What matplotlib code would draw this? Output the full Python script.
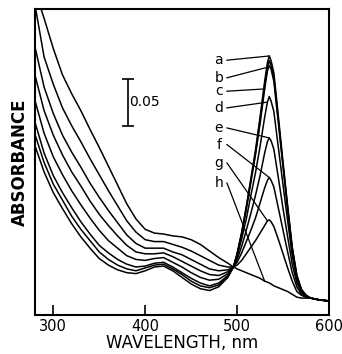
import numpy as np
import matplotlib
matplotlib.use('Agg')
import matplotlib.pyplot as plt

wavelength = [280, 290, 300, 310, 320, 330, 340, 350, 360, 370, 380, 390, 400, 410,
              420, 430, 440, 450, 460, 470, 480, 490,
              496, 500, 505, 510, 515, 520, 525, 530, 533, 535, 537, 540, 545, 550,
              555, 560, 565, 570, 575, 580, 590, 600]

# absorbance (uv part, then visible band)
spec_a = [.180, .152, .130, .113, .097, .083, .071, .060, .053, .048, .045, .044, .047, .051,
          .052, .047, .040, .033, .028, .026, .030, .040,
          .051, .065, .088, .115, .145, .175, .210, .248, .268, .275, .270, .257, .210, .162,
          .116, .072, .042, .027, .021, .018, .016, .015]
spec_b = [.192, .162, .139, .122, .105, .091, .079, .067, .059, .053, .049, .047, .050, .053,
          .054, .049, .043, .036, .031, .029, .032, .041,
          .051, .065, .087, .114, .143, .172, .207, .244, .263, .270, .265, .252, .206, .159,
          .114, .071, .042, .027, .021, .018, .016, .015]
spec_c = [.205, .172, .148, .130, .114, .099, .086, .074, .066, .059, .054, .051, .052, .055,
          .056, .051, .045, .039, .034, .031, .034, .042,
          .051, .064, .086, .112, .141, .170, .203, .240, .259, .265, .261, .248, .203, .157,
          .112, .070, .041, .027, .021, .018, .016, .015]
spec_d = [.228, .193, .168, .149, .132, .117, .103, .090, .079, .071, .063, .059, .058, .060,
          .061, .056, .051, .045, .040, .037, .038, .044,
          .051, .062, .081, .102, .127, .151, .179, .210, .226, .232, .227, .216, .177, .138,
          .100, .063, .038, .025, .020, .018, .016, .015]
spec_e = [.255, .217, .191, .170, .152, .137, .121, .107, .095, .084, .074, .067, .065, .065,
          .066, .062, .057, .052, .047, .043, .042, .046,
          .051, .059, .073, .090, .108, .127, .148, .172, .184, .188, .185, .176, .145, .113,
          .083, .054, .034, .024, .020, .018, .016, .015]
spec_f = [.285, .242, .214, .191, .173, .157, .140, .125, .111, .098, .085, .076, .071, .071,
          .071, .067, .064, .059, .054, .049, .047, .048,
          .051, .056, .066, .078, .090, .103, .119, .135, .143, .146, .143, .136, .113, .090,
          .067, .045, .030, .022, .019, .018, .016, .015]
spec_g = [.330, .274, .245, .220, .201, .184, .166, .149, .132, .116, .100, .088, .080, .078,
          .078, .075, .072, .068, .063, .058, .053, .051,
          .051, .053, .058, .065, .072, .079, .087, .095, .100, .101, .099, .094, .080, .065,
          .050, .036, .025, .021, .019, .018, .016, .015]
spec_h = [.345, .315, .283, .255, .235, .217, .197, .178, .158, .138, .118, .102, .091, .087,
          .086, .084, .083, .080, .075, .068, .061, .055,
          .051, .049, .047, .045, .043, .041, .039, .036, .035, .034, .033, .031, .029, .027,
          .025, .022, .019, .018, .018, .018, .016, .015]

letters = ['a', 'b', 'c', 'd', 'e', 'f', 'g', 'h']
label_y = [0.2705, 0.2518, 0.2376, 0.2199, 0.1986, 0.1809, 0.1614, 0.1401]
leader_wl = [535, 533, 530, 533, 535, 535, 533, 530]

spectra = [spec_a, spec_b, spec_c, spec_d, spec_e, spec_f, spec_g, spec_h]

fig = plt.figure(figsize=(3.42, 3.54), dpi=100)
ax = fig.add_axes([0.102, 0.110, 0.860, 0.865])

for s in spectra:
    ax.plot(wavelength, s, color='black', lw=1.1, solid_joinstyle='round')

# labels with leader lines
for lab, ly, lw_, s in zip(letters, label_y, leader_wl, spectra):
    ax.text(480, ly, lab, ha='center', va='center', fontsize=10)
    ax.plot([489, lw_], [ly, s[wavelength.index(lw_)]], color='black', lw=0.9)

# 0.05 scale bar
ax.errorbar(381, 0.226, yerr=0.025, fmt='none', ecolor='black', elinewidth=1.2,
            capsize=4, capthick=1.2)
ax.text(383, 0.226, '0.05', ha='left', va='center', fontsize=10)

ax.set_xlim(280, 600)
ax.set_ylim(0, 0.325)
ax.set_xticks([300, 400, 500, 600])
ax.set_yticks([])
ax.tick_params(axis='x', direction='in', length=7, width=1.2, labelsize=10.5, pad=3)
for sp in ax.spines.values():
    sp.set_linewidth(1.5)

ax.set_xlabel('WAVELENGTH, nm', fontsize=12, labelpad=0)
ax.set_ylabel('ABSORBANCE', fontsize=12, fontweight='bold', labelpad=4)

fig.savefig('out.png', dpi=100)
